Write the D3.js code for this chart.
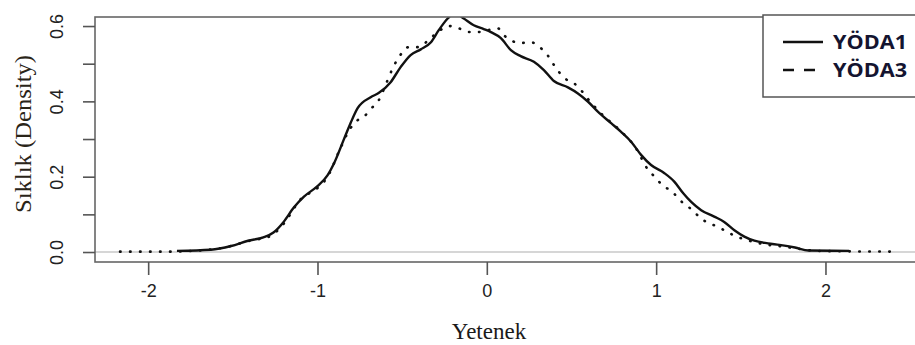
<!DOCTYPE html>
<html>
<head>
<meta charset="utf-8">
<script src="https://cdn.jsdelivr.net/npm/d3@7"></script>
<style>
  body { margin: 0; background: white; }
  #chart { width: 915px; height: 345px; overflow: hidden; }
</style>
</head>
<body>
<div id="chart"></div>
<script>
// values
var abilityA = [-1.83, -1.63, -1.51, -1.41, -1.32, -1.26, -1.2, -1.14, -1.08, -1.0, -0.94, -0.905, -0.846, -0.805, -0.763, -0.686, -0.639, -0.568, -0.509, -0.45, -0.39, -0.33, -0.284, -0.231, -0.19, -0.136, -0.077, -0.018, 0.024, 0.083, 0.142, 0.2, 0.278, 0.337, 0.396, 0.479, 0.538, 0.598, 0.657, 0.734, 0.793, 0.852, 0.911, 0.97, 1.047, 1.107, 1.16, 1.207, 1.266, 1.343, 1.402, 1.462, 1.521, 1.58, 1.66, 1.728, 1.82, 1.9, 2.14];
var densityA = [0.003, 0.006, 0.016, 0.03, 0.039, 0.052, 0.08, 0.118, 0.147, 0.175, 0.204, 0.233, 0.297, 0.342, 0.382, 0.411, 0.422, 0.451, 0.491, 0.523, 0.538, 0.557, 0.589, 0.62, 0.635, 0.62, 0.602, 0.592, 0.584, 0.568, 0.536, 0.52, 0.505, 0.483, 0.454, 0.437, 0.421, 0.399, 0.372, 0.342, 0.319, 0.293, 0.258, 0.231, 0.21, 0.187, 0.156, 0.133, 0.111, 0.094, 0.08, 0.058, 0.041, 0.03, 0.023, 0.019, 0.012, 0.004, 0.003];

var abilityB = [-2.166, -1.89, -1.7, -1.55, -1.4, -1.28, -1.2, -1.1, -1.0, -0.94, -0.87, -0.805, -0.763, -0.728, -0.686, -0.645, -0.586, -0.556, -0.527, -0.497, -0.462, -0.402, -0.34, -0.284, -0.225, -0.166, -0.107, -0.053, 0.006, 0.065, 0.1, 0.142, 0.2, 0.26, 0.32, 0.36, 0.39, 0.426, 0.467, 0.515, 0.556, 0.598, 0.645, 0.7, 0.76, 0.82, 0.87, 0.953, 1.0, 1.041, 1.089, 1.13, 1.166, 1.219, 1.254, 1.308, 1.355, 1.402, 1.455, 1.5, 1.55, 1.6, 1.66, 1.72, 1.82, 1.95, 2.1, 2.42];
var densityB = [0.001, 0.001, 0.004, 0.012, 0.03, 0.042, 0.075, 0.14, 0.17, 0.2, 0.27, 0.329, 0.35, 0.358, 0.38, 0.398, 0.456, 0.488, 0.512, 0.531, 0.544, 0.544, 0.565, 0.586, 0.6, 0.594, 0.584, 0.584, 0.589, 0.594, 0.576, 0.562, 0.555, 0.557, 0.541, 0.522, 0.501, 0.478, 0.459, 0.448, 0.43, 0.406, 0.382, 0.357, 0.334, 0.308, 0.283, 0.218, 0.196, 0.175, 0.163, 0.143, 0.127, 0.11, 0.093, 0.077, 0.069, 0.058, 0.045, 0.037, 0.03, 0.024, 0.019, 0.016, 0.01, 0.003, 0.002, 0.001];

var xTicks = [-2, -1, 0, 1, 2];
var yTicks = [0, 0.1, 0.2, 0.3, 0.4, 0.5, 0.6];
var yLabelled = [0, 0.2, 0.4, 0.6];
var seriesNames = ["YÖDA1", "YÖDA3"];

var W = 915, H = 345;
// note: "top" is taken by window.top, so plot edges get their own names
var plotLeft = 95, plotTop = 17, plotBottom = 262, plotRight = 944;

var svg = d3.select("#chart").append("svg")
  .attr("width", W)
  .attr("height", H);

var x = d3.scaleLinear().domain([-2.314, 2.7]).range([plotLeft, plotRight]);
var y = d3.scaleLinear().domain([-0.0265, 0.624]).range([plotBottom, plotTop]);

svg.append("clipPath").attr("id", "plotclip")
  .append("rect")
  .attr("x", plotLeft).attr("y", plotTop)
  .attr("width", plotRight - plotLeft).attr("height", plotBottom - plotTop);

// grey zero line (abline h = 0)
svg.append("line")
  .attr("x1", plotLeft).attr("x2", plotRight)
  .attr("y1", y(0)).attr("y2", y(0))
  .attr("stroke", "#c8c8c8")
  .attr("stroke-width", 1.5);

var line = d3.line()
  .x(function (d) { return x(d[0]); })
  .y(function (d) { return y(d[1]); })
  .curve(d3.curveMonotoneX);

var g = svg.append("g").attr("clip-path", "url(#plotclip)");

g.append("path")
  .datum(d3.zip(abilityB, densityB))
  .attr("d", line)
  .attr("fill", "none")
  .attr("stroke", "#111")
  .attr("stroke-width", 2.6)
  .attr("stroke-linecap", "round")
  .attr("stroke-dasharray", "0.5,9.5");

g.append("path")
  .datum(d3.zip(abilityA, densityA))
  .attr("d", line)
  .attr("fill", "none")
  .attr("stroke", "#111")
  .attr("stroke-width", 2.4);

// box
svg.append("rect")
  .attr("x", plotLeft).attr("y", plotTop)
  .attr("width", plotRight - plotLeft).attr("height", plotBottom - plotTop)
  .attr("fill", "none")
  .attr("stroke", "#666")
  .attr("stroke-width", 1.6);

// x axis
var xAxis = svg.append("g")
  .attr("transform", "translate(0," + plotBottom + ")")
  .call(d3.axisBottom(x).tickValues(xTicks).tickSize(13).tickPadding(9)
    .tickFormat(d3.format("d")));
xAxis.select(".domain").remove();
xAxis.selectAll("line").attr("stroke", "#555").attr("stroke-width", 1.6);
xAxis.selectAll("text")
  .attr("font-family", "Liberation Sans, Arial, sans-serif")
  .attr("font-size", 18)
  .attr("fill", "#222")
  .text(function (d) { return d < 0 ? "-" + Math.abs(d) : d; });

// y axis
var yAxis = svg.append("g")
  .attr("transform", "translate(" + plotLeft + ",0)")
  .call(d3.axisLeft(y).tickValues(yTicks).tickSize(12)
    .tickFormat(function (d) {
      return yLabelled.some(function (v) { return Math.abs(v - d) < 1e-9; }) ? d.toFixed(1) : "";
    }));
yAxis.select(".domain").remove();
yAxis.selectAll("line").attr("stroke", "#555").attr("stroke-width", 1.6);
yAxis.selectAll("text")
  .attr("x", null).attr("dy", null)
  .attr("transform", "translate(-32,0) rotate(-90)")
  .attr("text-anchor", "middle")
  .attr("font-family", "Liberation Sans, Arial, sans-serif")
  .attr("font-size", 18)
  .attr("fill", "#222");

// axis titles
svg.append("text")
  .attr("x", 489)
  .attr("y", 339)
  .attr("text-anchor", "middle")
  .attr("font-family", "Liberation Serif, Times New Roman, serif")
  .attr("font-size", 23)
  .attr("fill", "#1a1a1a")
  .text("Yetenek");

svg.append("text")
  .attr("transform", "translate(31,134) rotate(-90)")
  .attr("text-anchor", "middle")
  .attr("font-family", "Liberation Serif, Times New Roman, serif")
  .attr("font-size", 23)
  .attr("fill", "#2a2418")
  .attr("textLength", 158)
  .attr("lengthAdjust", "spacingAndGlyphs")
  .text("Sıklık (Density)");

// legend
var lg = svg.append("g");
lg.append("rect")
  .attr("x", 763).attr("y", 15)
  .attr("width", 200).attr("height", 82)
  .attr("fill", "white")
  .attr("stroke", "#555")
  .attr("stroke-width", 1.5);

var dashes = [null, "11,10"];
seriesNames.forEach(function (name, i) {
  var yy = 42 + i * 28;
  lg.append("line")
    .attr("x1", 783).attr("x2", 823)
    .attr("y1", yy).attr("y2", yy)
    .attr("stroke", "#111")
    .attr("stroke-width", 2.4)
    .attr("stroke-dasharray", dashes[i]);
  lg.append("text")
    .attr("x", 833)
    .attr("y", yy + 7)
    .attr("font-family", "Open Sans, sans-serif")
    .attr("font-weight", "bold")
    .attr("font-size", 19)
    .attr("fill", "#141430")
    .attr("textLength", 74)
    .attr("lengthAdjust", "spacingAndGlyphs")
    .text(name);
});
</script>
</body>
</html>
